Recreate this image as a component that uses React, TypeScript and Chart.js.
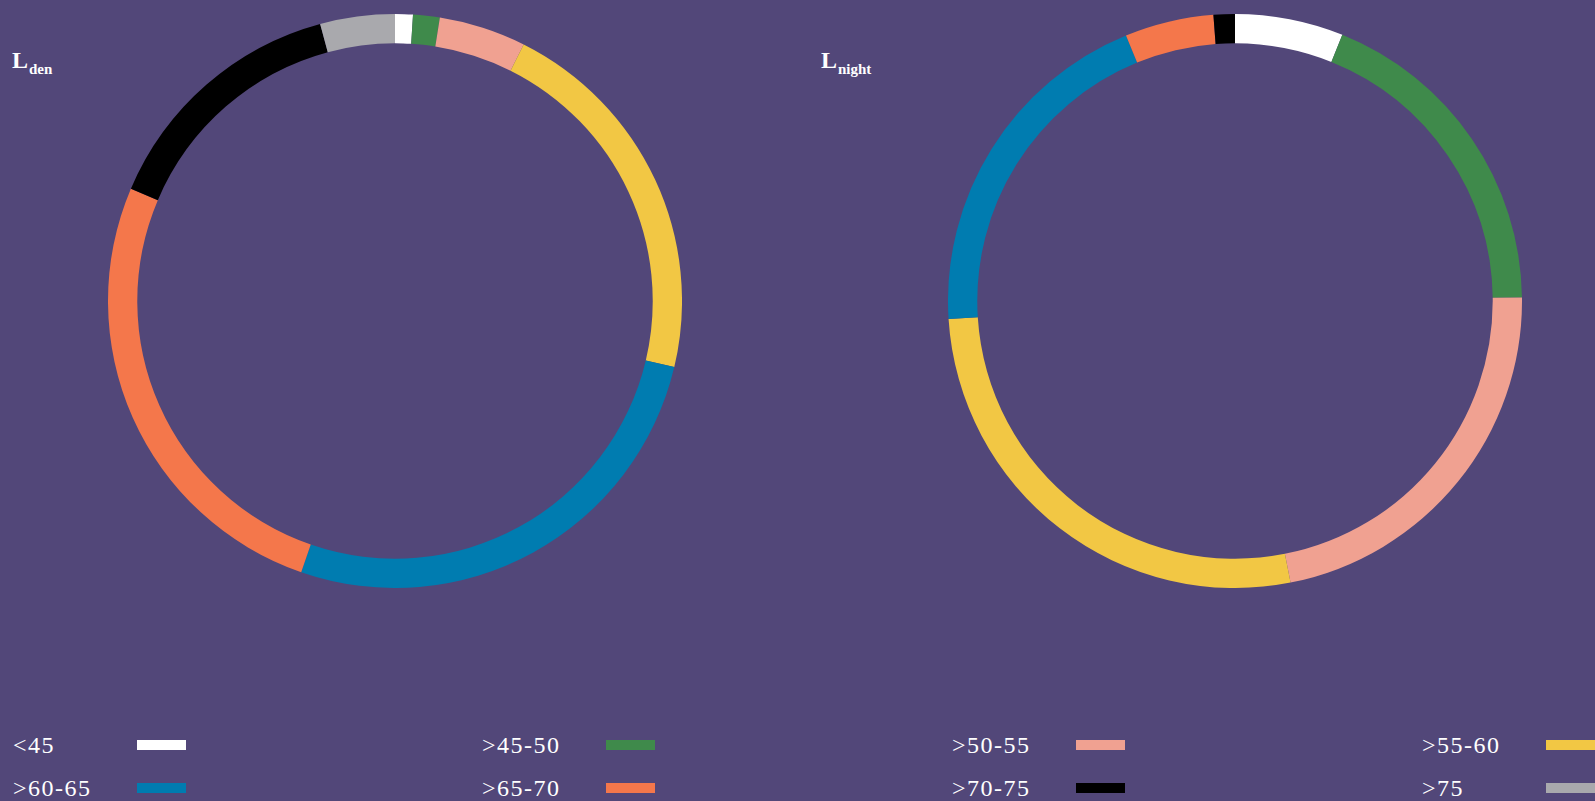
import React, { useEffect, useRef } from "react";
import { Chart, registerables } from "chart.js";

Chart.register(...registerables);

const categories = ["<45", ">45-50", ">50-55", ">55-60", ">60-65", ">65-70", ">70-75", ">75"];
const colors = ["#ffffff", "#3f8a4b", "#f0a191", "#f2c744", "#007cb0", "#f4774b", "#000000", "#a9a9ad"];
const ldenValues = [1.0, 1.5, 4.9, 21.3, 26.6, 26.1, 14.4, 4.2];
const lnightValues = [6.1, 18.7, 22.1, 27.1, 19.8, 5.0, 1.2, 0];

const BG = "#524779";
const FONT = "'Liberation Serif', 'DejaVu Serif', serif";

function Doughnut({ values, left }: { values: number[]; left: number }) {
  const ref = useRef<HTMLCanvasElement | null>(null);
  useEffect(() => {
    if (!ref.current) return;
    const chart = new Chart(ref.current, {
      type: "doughnut",
      data: {
        labels: categories,
        datasets: [
          {
            data: values,
            backgroundColor: colors,
            borderWidth: 0,
            hoverOffset: 0,
            offset: 0,
          },
        ],
      },
      options: {
        animation: false,
        responsive: false,
        cutout: "89.8%",
        layout: { padding: 0 },
        plugins: { legend: { display: false }, tooltip: { enabled: false } },
      },
    });
    return () => chart.destroy();
  }, [values]);
  return (
    <canvas
      ref={ref}
      width={574}
      height={574}
      style={{ position: "absolute", left, top: 14, width: 574, height: 574 }}
    />
  );
}

function Title({ x, sub }: { x: number; sub: string }) {
  return (
    <div
      style={{
        position: "absolute",
        left: x,
        top: 46,
        color: "#fff",
        fontFamily: FONT,
        fontWeight: 700,
        fontSize: 24,
        lineHeight: "28px",
        whiteSpace: "nowrap",
      }}
    >
      L<span style={{ fontSize: 15, position: "relative", top: 6, marginLeft: 1 }}>{sub}</span>
    </div>
  );
}

const colX = [13, 482, 952, 1422];
const rowY = [745, 788];

export default function App() {
  return (
    <div
      style={{
        position: "fixed",
        left: 0,
        top: 0,
        width: 1595,
        height: 801,
        background: BG,
        overflow: "hidden",
      }}
    >
      <Doughnut values={ldenValues} left={108} />
      <Doughnut values={lnightValues} left={948} />
      <Title x={12} sub="den" />
      <Title x={821} sub="night" />
      {categories.map((c, i) => {
        const row = Math.floor(i / 4);
        const col = i % 4;
        return (
          <React.Fragment key={c}>
            <div
              style={{
                position: "absolute",
                left: colX[col],
                top: rowY[row] - 14,
                height: 28,
                lineHeight: "28px",
                color: "#fff",
                fontFamily: FONT,
                fontSize: 24,
                letterSpacing: 1.5,
                whiteSpace: "nowrap",
              }}
            >
              {c}
            </div>
            <div
              style={{
                position: "absolute",
                left: colX[col] + 124,
                top: rowY[row] - 5,
                width: 49,
                height: 10,
                background: colors[i],
              }}
            />
          </React.Fragment>
        );
      })}
    </div>
  );
}
